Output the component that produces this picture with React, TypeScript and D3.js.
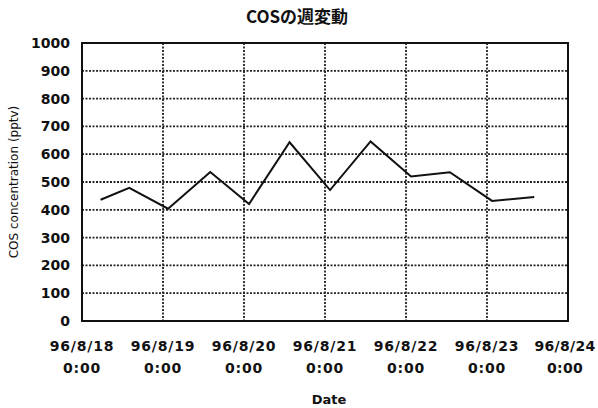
import React from "react";
import * as d3 from "d3";

const times: string[] = [
  "1996-08-18 05:30", "1996-08-18 14:00", "1996-08-19 01:30", "1996-08-19 14:00",
  "1996-08-20 01:30", "1996-08-20 13:30", "1996-08-21 01:30", "1996-08-21 13:30",
  "1996-08-22 01:30", "1996-08-22 13:00", "1996-08-23 01:30", "1996-08-23 14:00",
];
const cosValues: number[] = [436, 479, 404, 536, 421, 643, 471, 646, 520, 535, 432, 446];
const yTicks: number[] = [0, 100, 200, 300, 400, 500, 600, 700, 800, 900, 1000];
const xTickDates: string[] = [
  "1996-08-18 00:00", "1996-08-19 00:00", "1996-08-20 00:00", "1996-08-21 00:00",
  "1996-08-22 00:00", "1996-08-23 00:00", "1996-08-24 00:00",
];
const xTickLabels: string[] = ["96/8/18", "96/8/19", "96/8/20", "96/8/21", "96/8/22", "96/8/23", "96/8/24"];
const title = "COSの週変動";
const yLabel = "COS concentration (pptv)";
const xLabel = "Date";

const parse = d3.utcParse("%Y-%m-%d %H:%M");

export default function App() {
  const W = 598, H = 408;
  const left = 82, right = 568, top = 43, bottom = 321;
  const x = d3.scaleUtc()
    .domain([parse(xTickDates[0])!, parse(xTickDates[xTickDates.length - 1])!])
    .range([left, right]);
  const y = d3.scaleLinear().domain([0, 1000]).range([bottom, top]);
  const pts = times.map((t, i) => [x(parse(t)!), y(cosValues[i])] as [number, number]);
  const line = d3.line<[number, number]>()(pts) || "";
  const font = "'DejaVu Sans', Verdana, sans-serif";
  const tickDates = xTickDates.map((d) => parse(d)!);

  return (
    <svg width={W} height={H} style={{ position: "absolute", left: 0, top: 0, background: "#fff" }}>
      <rect x={0} y={0} width={W} height={H} fill="#fff" />
      <text x={297} y={23} textAnchor="middle" fontFamily="'Noto Sans CJK JP', sans-serif" fontSize={17} fontWeight={700} fill="#111">
        {title}
      </text>
      {/* horizontal grid */}
      {yTicks.filter((t) => t > 0 && t < 1000).map((t) => (
        <line key={"h" + t} x1={left} x2={right} y1={y(t)} y2={y(t)} stroke="#222" strokeWidth={1.8} strokeDasharray="2 1.5" />
      ))}
      {/* vertical grid */}
      {tickDates.slice(1, -1).map((d, i) => (
        <line key={"v" + i} x1={x(d)} x2={x(d)} y1={top} y2={bottom} stroke="#222" strokeWidth={1.8} strokeDasharray="2 1.5" />
      ))}
      <rect x={left} y={top} width={right - left} height={bottom - top} fill="none" stroke="#111" strokeWidth={2} />
      <path d={line} fill="none" stroke="#111" strokeWidth={2} strokeLinejoin="miter" />
      {/* y tick labels */}
      {yTicks.map((t) => (
        <text key={"yt" + t} x={70} y={y(t) + 5} textAnchor="end" fontFamily={font} fontWeight="bold" fontSize={14} fill="#111">
          {t}
        </text>
      ))}
      {/* x tick labels */}
      {tickDates.map((d, i) => {
        const last = i === tickDates.length - 1;
        const cx = last ? Math.min(x(d), 565) : x(d);
        const ls = last ? 0.3 : 0.8;
        return (
          <g key={"xt" + i}>
            <text x={cx} y={351} textAnchor="middle" fontFamily={font} fontWeight="bold" fontSize={14} letterSpacing={ls} fill="#111">
              {xTickLabels[i]}
            </text>
            <text x={cx} y={373} textAnchor="middle" fontFamily={font} fontWeight="bold" fontSize={14} letterSpacing={ls} fill="#111">
              0:00
            </text>
          </g>
        );
      })}
      <text x={329} y={404} textAnchor="middle" fontFamily={font} fontWeight="bold" fontSize={13} fill="#111">
        {xLabel}
      </text>
      <text transform={`translate(18, ${(top + bottom) / 2}) rotate(-90)`} textAnchor="middle" fontFamily={font} fontSize={12} fill="#111">
        {yLabel}
      </text>
    </svg>
  );
}
